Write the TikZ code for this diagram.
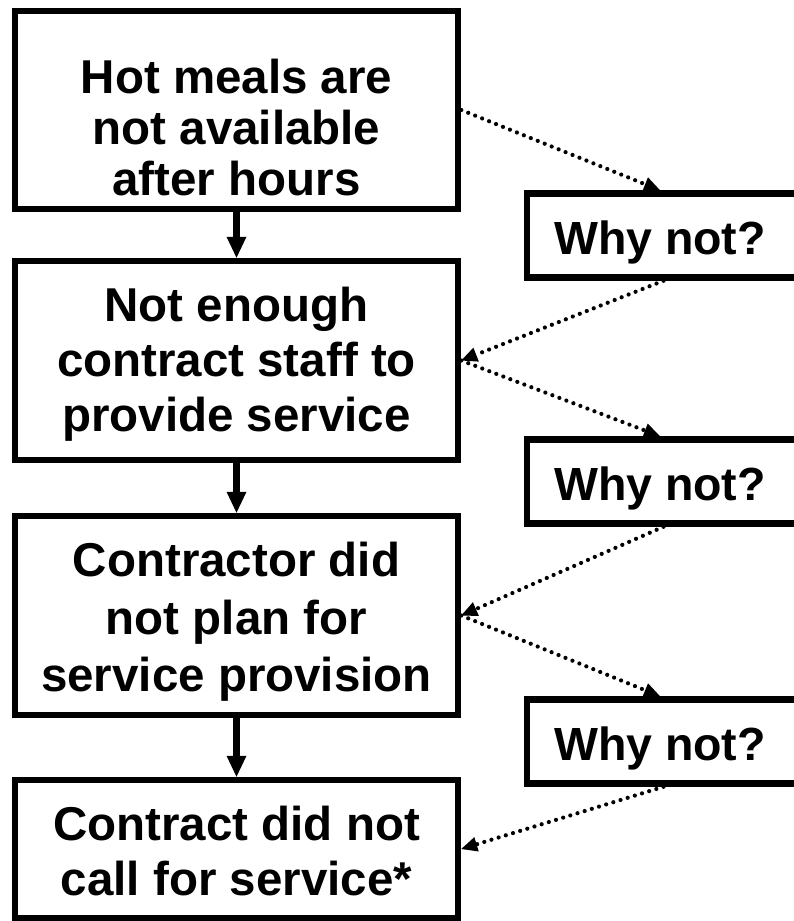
\documentclass[tikz,border=0pt]{standalone}
\usepackage{fontspec}
\setmainfont{Liberation Sans}
\usetikzlibrary{arrows.meta}
\begin{document}
\begin{tikzpicture}[x=1pt, y=-1pt,
  box/.style={draw=black, line width=6.5pt, minimum width=443pt, inner sep=0pt},
  whybox/.style={draw=black, line width=6.5pt, minimum width=273pt, minimum height=84pt, inner sep=0pt},
  maintext/.style={align=center, inner sep=0pt},
  whytext/.style={anchor=base, inner sep=0pt, font={\fontsize{46.5}{50}\selectfont\bfseries}},
  flow/.style={line width=7pt, -{Triangle[length=21pt, width=20pt, line width=0pt]}},
  why/.style={line width=4.2pt, line cap=round, dash pattern=on 0pt off 7.5pt,
              -{Triangle[length=16pt, width=15pt, line width=0pt]}}]
\useasboundingbox (0,0) rectangle (794,921);

% chain of causes
\node[box, minimum height=198pt] (b1) at (236.5,110) {};
\node[box, minimum height=199pt] (b2) at (236.5,360.5) {};
\node[box, minimum height=199pt] (b3) at (236.5,615.5) {};
\node[box, minimum height=138pt] (b4) at (236.5,849) {};

\node[maintext, font={\fontsize{47.5}{51}\selectfont\bfseries}] (t1) at (236.5,134)
  {\strut Hot meals are\\\strut not available\\\strut after hours};
\node[maintext, font={\fontsize{47.5}{55}\selectfont\bfseries}] (t2) at (236.5,365.7)
  {\strut Not enough\\\strut contract staff to\\\strut provide service};
\node[maintext, font={\fontsize{47.5}{57.5}\selectfont\bfseries}] (t3) at (236.5,622.7)
  {\strut Contractor did\\\strut not plan for\\\strut service provision};
\node[maintext, font={\fontsize{47.5}{55}\selectfont\bfseries}] (t4) at (236.5,856.5)
  {\strut Contract did not\\\strut call for service*};

% questions
\node[whybox] (w1) at (663.5,235.5) {};
\node[whybox] (w2) at (663.5,481.5) {};
\node[whybox] (w3) at (663.5,741.5) {};
\node[whytext] (q1) at (660,254) {Why not?};
\node[whytext] (q2) at (660,500) {Why not?};
\node[whytext] (q3) at (660,760) {Why not?};

% solid arrows down the chain
\draw[flow] (b1) -- (b2);
\draw[flow] (b2) -- (b3);
\draw[flow] (b3) -- (b4);

% dotted question loops
\draw[why] (b1.east) -- (w1.north -| q1);
\draw[why] (w1.south) -- (b2.east);
\draw[why] (b2.east) -- (w2.north -| q2);
\draw[why] (w2.south) -- (b3.east);
\draw[why] (b3.east) -- (w3.north -| q3);
\draw[why] (w3.south) -- (b4.east);
\end{tikzpicture}
\end{document}
